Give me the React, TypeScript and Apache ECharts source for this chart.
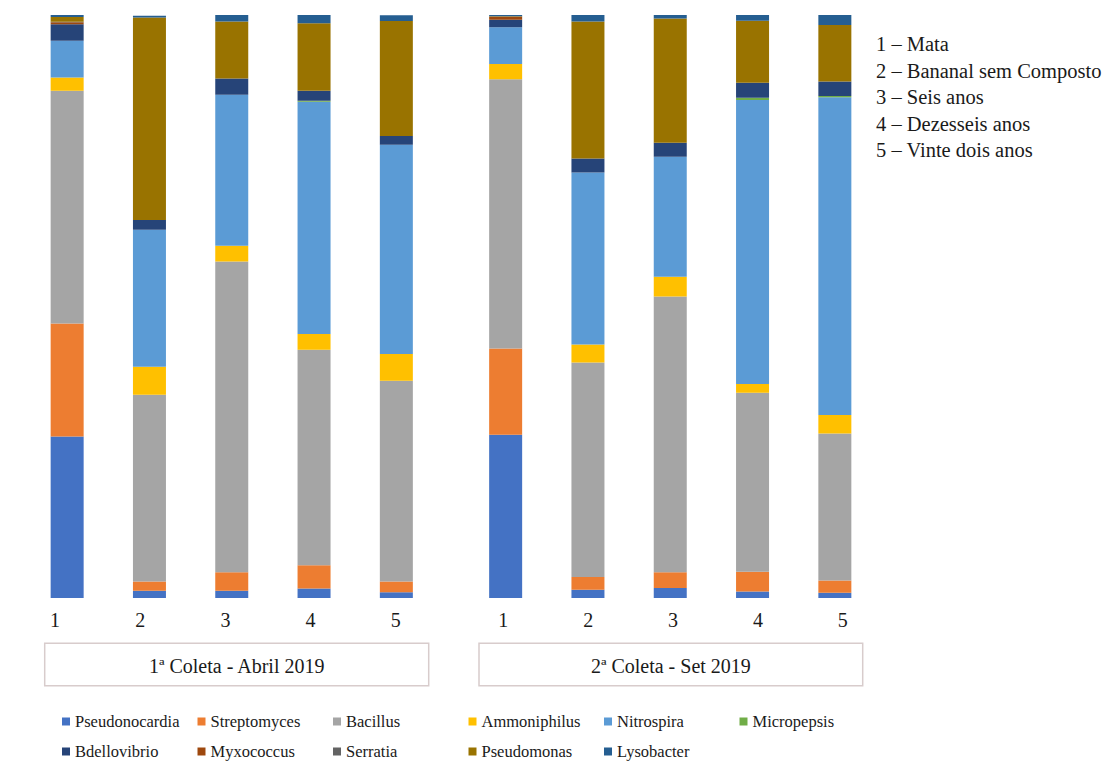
import React, { useEffect, useRef } from "react";
import * as echarts from "echarts";

// Sampling sites (bars) and the two sampling campaigns
const sites = ["1", "2", "3", "4", "5"];
const collections = ["1ª Coleta - Abril 2019", "2ª Coleta - Set 2019"];
const siteNames = [
  "1 – Mata",
  "2 – Bananal sem Composto",
  "3 – Seis anos",
  "4 – Dezesseis anos",
  "5 – Vinte dois anos",
];

// Relative abundance (%) per genus: sites 1–5 of April 2019, then sites 1–5 of Sept 2019
const pseudonocardia = [27.7, 1.25, 1.25, 1.65, 1.0, 28.0, 1.4, 1.7, 1.1, 0.9];
const streptomyces = [19.4, 1.6, 3.15, 3.95, 1.85, 14.8, 2.2, 2.7, 3.4, 2.1];
const bacillus = [39.9, 32.0, 53.3, 37.0, 34.4, 46.2, 36.8, 47.3, 30.7, 25.2];
const ammoniphilus = [2.3, 4.8, 2.7, 2.7, 4.6, 2.6, 3.1, 3.4, 1.5, 3.2];
const nitrospira = [6.3, 23.5, 25.9, 39.8, 35.9, 6.3, 29.5, 20.6, 48.7, 54.5];
const micropepsis = [0, 0, 0, 0.2, 0, 0, 0, 0, 0.4, 0.2];
const bdellovibrio = [2.8, 1.7, 2.8, 1.7, 1.5, 1.3, 2.4, 2.4, 2.6, 2.5];
const myxococcus = [0.35, 0, 0, 0, 0, 0.5, 0, 0, 0, 0];
const serratia = [0.1, 0, 0, 0, 0, 0, 0, 0, 0, 0];
const pseudomonas = [0.8, 34.7, 9.8, 11.6, 19.7, 0.1, 23.5, 21.3, 10.6, 9.7];
const lysobacter = [0.35, 0.34, 1.1, 1.4, 1.0, 0.25, 1.1, 0.6, 1.0, 1.7];

const genusNames = [
  "Pseudonocardia",
  "Streptomyces",
  "Bacillus",
  "Ammoniphilus",
  "Nitrospira",
  "Micropepsis",
  "Bdellovibrio",
  "Myxococcus",
  "Serratia",
  "Pseudomonas",
  "Lysobacter",
];
const genusValues = [
  pseudonocardia,
  streptomyces,
  bacillus,
  ammoniphilus,
  nitrospira,
  micropepsis,
  bdellovibrio,
  myxococcus,
  serratia,
  pseudomonas,
  lysobacter,
];
const genusColors = [
  "#4472C4",
  "#ED7D31",
  "#A5A5A5",
  "#FFC000",
  "#5B9BD5",
  "#70AD47",
  "#264478",
  "#9E480E",
  "#636363",
  "#997300",
  "#255E91",
];

// Legend laid out in a grid: six columns, two rows
const legendRows = [
  ["Pseudonocardia", "Streptomyces", "Bacillus", "Ammoniphilus", "Nitrospira", "Micropepsis"],
  ["Bdellovibrio", "Myxococcus", "Serratia", "Pseudomonas", "Lysobacter"],
];

const FONT = '"Liberation Serif", "Times New Roman", serif';
const TEXT_COLOR = "#1a1a1a";

export default function App() {
  const ref = useRef<HTMLDivElement>(null);

  useEffect(() => {
    if (!ref.current) return;
    const chart = echarts.init(ref.current, undefined, { renderer: "svg" });

    const barGrids = [
      { left: 26, width: 411.5, top: 15, height: 583 },
      { left: 464.5, width: 411.5, top: 15, height: 583 },
    ];
    const labelGrids = [
      { left: 12.4, width: 426, top: 15, height: 583 },
      { left: 460.9, width: 424.3, top: 15, height: 583 },
    ];

    const series: any[] = [];
    genusNames.forEach((name, gi) => {
      collections.forEach((_, ci) => {
        series.push({
          type: "bar",
          name,
          stack: "c" + ci,
          xAxisIndex: ci,
          yAxisIndex: ci,
          barWidth: 33,
          data: genusValues[gi].slice(ci * 5, ci * 5 + 5),
          itemStyle: { color: genusColors[gi] },
          emphasis: { disabled: true },
        });
      });
    });

    const boxes = [
      { x: 44.7, y: 643.3, w: 384, h: 42.4 },
      { x: 479, y: 643.3, w: 383.7, h: 42.4 },
    ];

    const graphic: any[] = [];
    boxes.forEach((b, i) => {
      graphic.push({
        type: "rect",
        shape: { x: b.x, y: b.y, width: b.w, height: b.h },
        style: { fill: "#ffffff", stroke: "#d8cccc", lineWidth: 1.5 },
      });
      graphic.push({
        type: "text",
        x: b.x + b.w / 2,
        y: b.y + b.h / 2 + 1,
        style: {
          text: collections[i],
          font: `20px ${FONT}`,
          fill: TEXT_COLOR,
          textAlign: "center",
          textVerticalAlign: "middle",
        },
      });
    });
    siteNames.forEach((t, i) => {
      graphic.push({
        type: "text",
        x: 876,
        y: 44 + 26.5 * i,
        style: {
          text: t,
          font: `20.5px ${FONT}`,
          fill: TEXT_COLOR,
          textAlign: "left",
          textVerticalAlign: "middle",
        },
      });
    });

    const legendX = [62, 197.5, 333, 468.5, 604, 739.5];
    const legendY = [713, 743];
    const legends: any[] = [];
    legendRows.forEach((row, r) => {
      row.forEach((name, c) => {
        legends.push({
          data: [name],
          left: legendX[c],
          top: legendY[r],
          icon: "rect",
          itemWidth: 8,
          itemHeight: 8,
          padding: 0,
          selectedMode: false,
          textStyle: {
            fontFamily: FONT,
            fontSize: 16.5,
            lineHeight: 16,
            color: TEXT_COLOR,
          },
        });
      });
    });

    chart.setOption({
      animation: false,
      grid: [...barGrids, ...labelGrids],
      xAxis: [0, 1, 2, 3].map((i) => ({
        type: "category",
        gridIndex: i,
        data: sites,
        show: i >= 2,
        axisLine: { show: false },
        axisTick: { show: false },
        splitLine: { show: false },
        axisLabel: {
          fontFamily: FONT,
          fontSize: 20,
          color: TEXT_COLOR,
          margin: 12,
        },
      })),
      yAxis: [0, 1, 2, 3].map((i) => ({
        type: "value",
        gridIndex: i,
        min: 0,
        max: 100,
        show: false,
        splitLine: { show: false },
      })),
      legend: legends,
      series,
      graphic,
    });

    return () => chart.dispose();
  }, []);

  return (
    <div
      ref={ref}
      style={{ position: "fixed", left: 0, top: 0, width: 1118, height: 762, background: "#ffffff" }}
    />
  );
}
